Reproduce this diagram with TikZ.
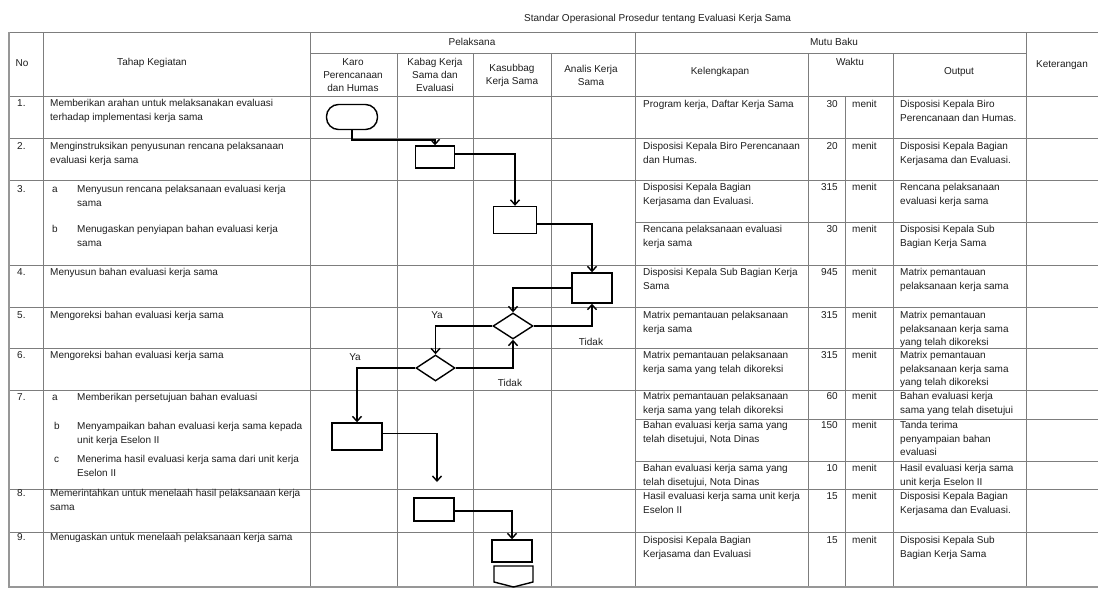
\documentclass[tikz,border=0pt]{standalone}
\usepackage{fontspec}
\setmainfont{Liberation Sans}
\usetikzlibrary{shapes.geometric,arrows.meta}
\definecolor{gridc}{RGB}{125,125,125}
\definecolor{txtc}{RGB}{30,30,30}
\begin{document}
\begin{tikzpicture}[x=1pt,y=-1pt,
  gline/.style={line width=0.8pt,draw=gridc},
  oline/.style={line width=1.1pt,draw=gridc!80},
  lbl/.style={font=\fontsize{10}{13.5}\selectfont,text=txtc,inner sep=0pt,align=left,anchor=north west},
  letr/.style={font=\fontsize{10}{13.5}\selectfont,text=txtc,inner sep=0pt,text height=7.2pt,anchor=north west},
  num/.style={font=\fontsize{10}{13.5}\selectfont,text=txtc,inner sep=0pt,anchor=north east},
  hdr/.style={font=\fontsize{10}{13}\selectfont,text=txtc,inner sep=0pt,align=center},
  boxs/.style={draw,line width=1.4pt,fill=white,inner sep=0pt},
  dia/.style={diamond,draw,line width=1.4pt,fill=white,inner sep=0pt},
  flow/.style={line width=1.6pt,-{Straight Barb[length=5pt,width=9pt,line width=1.4pt]}},
  note/.style={font=\fontsize{10}{12}\selectfont,text=txtc,inner sep=0pt}]
\useasboundingbox (0,0) rectangle (1098,600);
\fill[white] (0,0) rectangle (1098,600);
% grid
\foreach \yy in {32,96,138,180,265,307,348,390,489,532,587}
  \draw[gline] (9,\yy) -- (1098,\yy);
\draw[gline] (310,53) -- (1026,53);
\foreach \yy in {222,419,461}
  \draw[gline] (635,\yy) -- (1098,\yy);
\foreach \xx in {9,43,310,635,1026}
  \draw[gline] (\xx,32) -- (\xx,587);
\foreach \xx in {397,473,551,808,893}
  \draw[gline] (\xx,53) -- (\xx,587);
\draw[gline] (845,96) -- (845,587);
\draw[oline] (9,32) -- (9,587) -- (1098,587);
% title and header
\node[lbl,anchor=base west] (title) at (524,21.5) {Standar Operasional Prosedur tentang Evaluasi Kerja Sama};
\node[hdr] (hno) at (22,63) {No};
\node[hdr] (htahap) at (152,63) {Tahap Kegiatan};
\node[hdr] (hpel) at (472,42) {Pelaksana};
\node[hdr] (hmutu) at (834,42) {Mutu Baku};
\node[hdr] (hket) at (1062,65) {Keterangan};
\node[hdr] (hkaro) at (353,75) {Karo\\Perencanaan\\dan Humas};
\node[hdr] (hkabag) at (435,75) {Kabag Kerja\\Sama dan\\Evaluasi};
\node[hdr] (hkasub) at (512,75) {Kasubbag\\Kerja Sama};
\node[hdr] (hanalis) at (591,75) {Analis Kerja\\Sama};
\node[hdr] (hkel) at (720,72) {Kelengkapan};
\node[hdr] (hwaktu) at (850,62) {Waktu};
\node[hdr] (hout) at (959,72) {Output};
% numbers
\node[lbl] (n1) at (17,99.5) {1.};
\node[lbl] (n2) at (17,142.5) {2.};
\node[lbl] (n3) at (17,185.5) {3.};
\node[lbl] (n4) at (17,268.5) {4.};
\node[lbl] (n5) at (17,311.5) {5.};
\node[lbl] (n6) at (17,351.5) {6.};
\node[lbl] (n7) at (17,393.5) {7.};
\node[lbl] (n8) at (17,489.5) {8.};
\node[lbl] (n9) at (17,533.5) {9.};
% tahap kegiatan
\node[lbl] (t1) at (50,99.5) {Memberikan arahan untuk melaksanakan evaluasi\\terhadap implementasi kerja sama};
\node[lbl] (t2) at (50,142.5) {Menginstruksikan penyusunan rencana pelaksanaan\\evaluasi kerja sama};
\node[letr] (t3al) at (52,185.5) {a};
\node[lbl] (t3a) at (77,185.5) {Menyusun rencana pelaksanaan evaluasi kerja\\sama};
\node[letr] (t3bl) at (52,225.5) {b};
\node[lbl] (t3b) at (77,225.5) {Menugaskan penyiapan bahan evaluasi kerja\\sama};
\node[lbl] (t4) at (50,268.5) {Menyusun bahan evaluasi kerja sama};
\node[lbl] (t5) at (50,311.5) {Mengoreksi bahan evaluasi kerja sama};
\node[lbl] (t6) at (50,351.5) {Mengoreksi bahan evaluasi kerja sama};
\node[letr] (t7al) at (52,393.5) {a};
\node[lbl] (t7a) at (77,393.5) {Memberikan persetujuan bahan evaluasi};
\node[letr] (t7bl) at (54,422.5) {b};
\node[lbl] (t7b) at (77,422.5) {Menyampaikan bahan evaluasi kerja sama kepada\\unit kerja Eselon II};
\node[letr] (t7cl) at (54,455.5) {c};
\node[lbl] (t7c) at (77,455.5) {Menerima hasil evaluasi kerja sama dari unit kerja\\Eselon II};
\node[lbl] (t8) at (50,489.5) {Memerintahkan untuk menelaah hasil pelaksanaan kerja\\sama};
\node[lbl] (t9) at (50,533.5) {Menugaskan untuk menelaah pelaksanaan kerja sama};
% kelengkapan
\node[lbl] (k1) at (643,100.5) {Program kerja, Daftar Kerja Sama};
\node[lbl] (k2) at (643,142.5) {Disposisi Kepala Biro Perencanaan\\dan Humas.};
\node[lbl] (k3a) at (643,183.5) {Disposisi Kepala Bagian\\Kerjasama dan Evaluasi.};
\node[lbl] (k3b) at (643,225.5) {Rencana pelaksanaan evaluasi\\kerja sama};
\node[lbl] (k4) at (643,268.5) {Disposisi Kepala Sub Bagian Kerja\\Sama};
\node[lbl] (k5) at (643,311.5) {Matrix pemantauan pelaksanaan\\kerja sama};
\node[lbl] (k6) at (643,351.5) {Matrix pemantauan pelaksanaan\\kerja sama yang telah dikoreksi};
\node[lbl] (k7a) at (643,392.5) {Matrix pemantauan pelaksanaan\\kerja sama yang telah dikoreksi};
\node[lbl] (k7b) at (643,421.5) {Bahan evaluasi kerja sama yang\\telah disetujui, Nota Dinas};
\node[lbl] (k7c) at (643,464.5) {Bahan evaluasi kerja sama yang\\telah disetujui, Nota Dinas};
\node[lbl] (k8) at (643,492.5) {Hasil evaluasi kerja sama unit kerja\\Eselon II};
\node[lbl] (k9) at (643,536.5) {Disposisi Kepala Bagian\\Kerjasama dan Evaluasi};
% waktu
\node[num] (w1) at (838,100.5) {30};
\node[num] (w2) at (838,142.5) {20};
\node[num] (w3a) at (838,183.5) {315};
\node[num] (w3b) at (838,225.5) {30};
\node[num] (w4) at (838,268.5) {945};
\node[num] (w5) at (838,311.5) {315};
\node[num] (w6) at (838,351.5) {315};
\node[num] (w7a) at (838,392.5) {60};
\node[num] (w7b) at (838,421.5) {150};
\node[num] (w7c) at (838,464.5) {10};
\node[num] (w8) at (838,492.5) {15};
\node[num] (w9) at (838,536.5) {15};
\foreach \yy/\nm in {100.5/1,142.5/2,183.5/3a,225.5/3b,268.5/4,311.5/5,351.5/6,392.5/7a,421.5/7b,464.5/7c,492.5/8,536.5/9}
  \node[letr] (m\nm) at (852,\yy) {menit};
% output
\node[lbl] (o1) at (900,100.5) {Disposisi Kepala Biro\\Perencanaan dan Humas.};
\node[lbl] (o2) at (900,142.5) {Disposisi Kepala Bagian\\Kerjasama dan Evaluasi.};
\node[lbl] (o3a) at (900,183.5) {Rencana pelaksanaan\\evaluasi kerja sama};
\node[lbl] (o3b) at (900,225.5) {Disposisi Kepala Sub\\Bagian Kerja Sama};
\node[lbl] (o4) at (900,268.5) {Matrix pemantauan\\pelaksanaan kerja sama};
\node[lbl] (o5) at (900,311.5) {Matrix pemantauan\\pelaksanaan kerja sama\\yang telah dikoreksi};
\node[lbl] (o6) at (900,351.5) {Matrix pemantauan\\pelaksanaan kerja sama\\yang telah dikoreksi};
\node[lbl] (o7a) at (900,392.5) {Bahan evaluasi kerja\\sama yang telah disetujui};
\node[lbl] (o7b) at (900,421.5) {Tanda terima\\penyampaian bahan\\evaluasi};
\node[lbl] (o7c) at (900,464.5) {Hasil evaluasi kerja sama\\unit kerja Eselon II};
\node[lbl] (o8) at (900,492.5) {Disposisi Kepala Bagian\\Kerjasama dan Evaluasi.};
\node[lbl] (o9) at (900,536.5) {Disposisi Kepala Sub\\Bagian Kerja Sama};
% flow shapes
\node[boxs,minimum width=51pt,minimum height=25pt,rounded corners=12pt] (term) at (352,117) {};
\node[boxs,minimum width=39pt,minimum height=22pt] (b2) at (435,157) {};
\node[boxs,minimum width=43pt,minimum height=27pt] (b3) at (515,220) {};
\node[boxs,minimum width=40pt,minimum height=30pt] (b4) at (592,288) {};
\node[dia,minimum width=40pt,minimum height=26pt] (d1) at (513,326) {};
\node[dia,minimum width=39pt,minimum height=26pt] (d2) at (435.5,368) {};
\node[boxs,minimum width=50pt,minimum height=27pt] (b7) at (357,436.5) {};
\node[boxs,minimum width=40pt,minimum height=23pt] (b8) at (434,509.5) {};
\node[boxs,minimum width=40pt,minimum height=22pt] (b9) at (512,551) {};
\draw[line width=1.4pt,fill=white] (494,566) -- (533,566) -- (533,582) -- (513.5,587) -- (494,582) -- cycle;
\coordinate (end7) at (437,482);
% connectors
\draw[flow] (term.south) -- ++(0,10) -| (b2.north);
\draw[flow] ([yshift=3pt]b2.east) -| (b3.north);
\draw[flow] ([yshift=-4pt]b3.east) -| (b4.north);
\draw[flow] (b4.west) -| (d1.north);
\draw[flow] (d1.east) -| (b4.south);
\draw[flow] (d1.west) -| (d2.north);
\draw[flow] (d2.east) -| (d1.south);
\draw[flow] (d2.west) -| (b7.north);
\draw[flow] ([yshift=3pt]b7.east) -| (end7);
\draw[flow] ([yshift=-1.5pt]b8.east) -| (b9.north);
% labels
\node[note] (ya1) at (437,315) {Ya};
\node[note] (ya2) at (355,357) {Ya};
\node[note] (td1) at (591,342) {Tidak};
\node[note] (td2) at (510,383) {Tidak};
\end{tikzpicture}
\end{document}
